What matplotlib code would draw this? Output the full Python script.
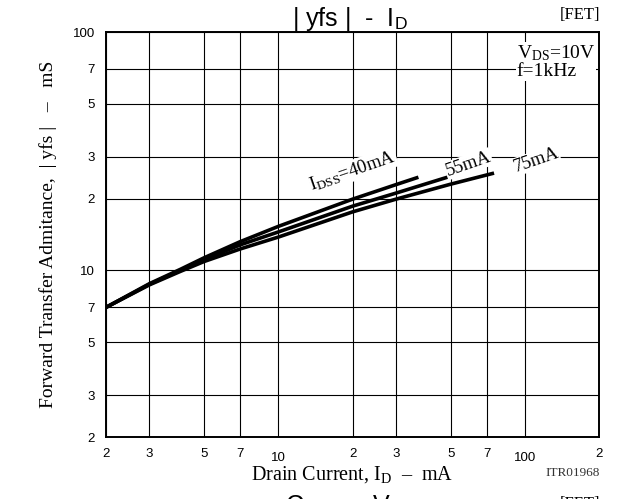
import matplotlib
matplotlib.use("Agg")
import matplotlib.pyplot as plt
import matplotlib.transforms as mtransforms
from matplotlib.ticker import FixedLocator, FixedFormatter, NullLocator

# Curve data (ID in mA, |yfs| in mS)
id_40 = [2, 3, 4, 5, 7, 10, 20, 30, 37]
yfs_40 = [7.0, 8.8, 10.1, 11.3, 13.2, 15.3, 19.9, 22.9, 24.6]

id_55 = [2, 3, 4, 5, 7, 10, 20, 30, 51]
yfs_55 = [7.0, 8.75, 10.0, 11.1, 12.8, 14.5, 18.6, 21.1, 25.0]

id_75 = [2, 3, 4, 5, 7, 10, 20, 30, 50, 75]
yfs_75 = [7.0, 8.7, 9.9, 10.9, 12.3, 13.8, 17.6, 19.9, 23.0, 25.6]

x_ticks = [2, 3, 5, 7, 10, 20, 30, 50, 70, 100, 200]
x_ticklabels = ["2", "3", "5", "7", "10", "2", "3", "5", "7", "100", "2"]
y_ticks = [2, 3, 5, 7, 10, 20, 30, 50, 70, 100]
y_ticklabels = ["2", "3", "5", "7", "10", "2", "3", "5", "7", "100"]

plt.rcParams['mathtext.fontset'] = 'custom'
plt.rcParams['mathtext.rm'] = 'Liberation Serif'
plt.rcParams['mathtext.sf'] = 'Liberation Sans'
plt.rcParams['mathtext.it'] = 'Liberation Serif:italic'

serif = 'Liberation Serif'
sans = 'Liberation Sans'

fig = plt.figure(figsize=(6.24, 4.99), dpi=100)
ax = fig.add_axes([0.170, 0.1242, 0.790, 0.8116])

ax.set_xscale('log')
ax.set_yscale('log')
ax.set_xlim(2, 200)
ax.set_ylim(2, 100)

for xs, ys in [(id_40, yfs_40), (id_55, yfs_55), (id_75, yfs_75)]:
    ax.plot(xs, ys, color='black', lw=2.6, solid_capstyle='butt',
            solid_joinstyle='round', zorder=3)

ax.xaxis.set_major_locator(FixedLocator(x_ticks))
ax.xaxis.set_major_formatter(FixedFormatter(x_ticklabels))
ax.yaxis.set_major_locator(FixedLocator(y_ticks))
ax.yaxis.set_major_formatter(FixedFormatter(y_ticklabels))
ax.xaxis.set_minor_locator(NullLocator())
ax.yaxis.set_minor_locator(NullLocator())
ax.tick_params(length=0, labelsize=9.5, pad=8)
for lab in ax.get_xticklabels() + ax.get_yticklabels():
    lab.set_fontfamily(sans)

# "10" and "100" sit a little lower on the x axis in the original
for lab in ax.get_xticklabels():
    if lab.get_text() in ("10", "100"):
        lab.set_transform(lab.get_transform() +
                          mtransforms.ScaledTranslation(0, -3 / 72, fig.dpi_scale_trans))

ax.grid(True, which='major', color='black', lw=0.8)
for s in ax.spines.values():
    s.set_linewidth(1.4)

box = dict(facecolor='white', edgecolor='none', pad=0.5)

ax.text(20.0, 26.2, r'I$_{\mathrm{DSS}}$=40mA', fontfamily=serif, fontsize=13.5,
        rotation=19, ha='center', va='center', bbox=box, zorder=4)
ax.text(59, 28.0, '55mA', fontfamily=serif, fontsize=13.5, rotation=19,
        ha='center', va='center', bbox=box, zorder=4)
ax.text(111, 29.0, '75mA', fontfamily=serif, fontsize=13.5, rotation=19,
        ha='center', va='center', bbox=box, zorder=4)

ax.text(0.992, 0.972, r'V$_{\mathrm{DS}}$=10V' + '\nf=1kHz', transform=ax.transAxes,
        fontfamily=serif, fontsize=14, ha='right', va='top', linespacing=1.0,
        multialignment='left', bbox=box, zorder=4)

fig.text(0.561, 0.962, r'| yfs |  -  I$_{\mathsf{D}}$', fontfamily=sans, fontsize=18,
         ha='center', va='center')
fig.text(0.962, 0.970, '[FET]', fontfamily=serif, fontsize=12, ha='right', va='center')

ax.set_xlabel(r'Drain Current, I$_{\mathrm{D}}$  –  mA', fontfamily=serif, fontsize=14.5,
              labelpad=0)
ax.set_ylabel('Forward Transfer Admitance,  | yfs |   –   mS', fontfamily=serif,
              fontsize=14, labelpad=11)
fig.text(0.962, 0.052, 'ITR01968', fontfamily=serif, fontsize=9.5, ha='right',
         va='center', color='#333333')

# top of the next chart's heading, cut by the page edge
fig.text(0.561, -0.014, r'Crss  -  V$_{\mathsf{DS}}$', fontfamily=sans, fontsize=18,
         ha='center', va='center')
fig.text(0.962, -0.010, '[FET]', fontfamily=serif, fontsize=12, ha='right', va='center')

fig.savefig('out.png', dpi=100)
